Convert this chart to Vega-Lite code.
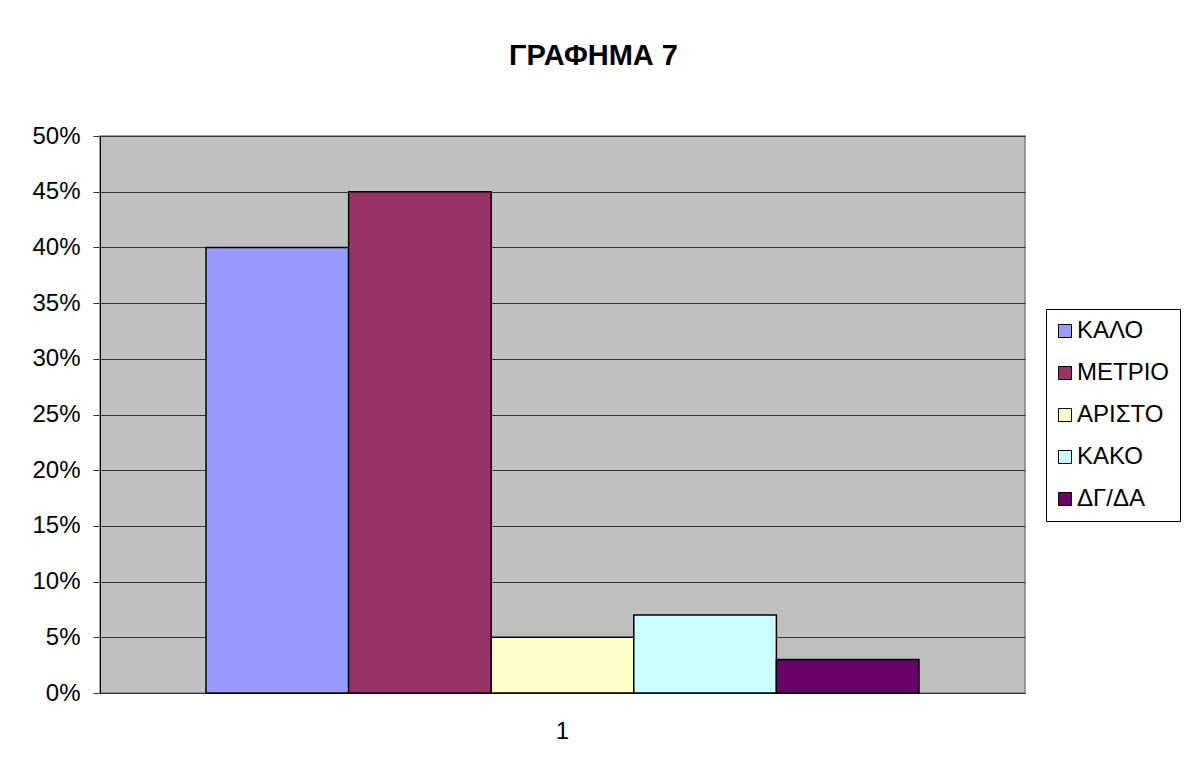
{
  "$schema": "https://vega.github.io/schema/vega-lite/v6.json",
  "width": 925,
  "height": 557,
  "autosize": {"type": "none"},
  "padding": {"left": 100, "top": 136, "right": 159, "bottom": 79},
  "background": "#ffffff",
  "title": {
    "text": "ΓΡΑΦΗΜΑ 7",
    "fontSize": 29,
    "font": "Liberation Sans",
    "fontWeight": "bold",
    "color": "#000000",
    "anchor": "middle",
    "dx": 31,
    "offset": 53
  },
  "data": {
    "values": [
      {"cat": "1", "series": "ΚΑΛΟ", "value": 0.40},
      {"cat": "1", "series": "ΜΕΤΡΙΟ", "value": 0.45},
      {"cat": "1", "series": "ΑΡΙΣΤΟ", "value": 0.05},
      {"cat": "1", "series": "ΚΑΚΟ", "value": 0.07},
      {"cat": "1", "series": "ΔΓ/ΔΑ", "value": 0.03}
    ]
  },
  "mark": {"type": "bar", "stroke": "#000000", "strokeWidth": 1.5},
  "encoding": {
    "x": {
      "field": "cat",
      "type": "nominal",
      "scale": {"paddingInner": 0, "paddingOuter": 0.1487},
      "axis": {
        "title": null,
        "labelAngle": 0,
        "ticks": false,
        "labelFontSize": 24,
        "labelColor": "#000000",
        "labelPadding": 26,
        "domainColor": "#333333",
        "domainWidth": 1
      }
    },
    "xOffset": {
      "field": "series",
      "type": "nominal",
      "sort": ["ΚΑΛΟ", "ΜΕΤΡΙΟ", "ΑΡΙΣΤΟ", "ΚΑΚΟ", "ΔΓ/ΔΑ"],
      "scale": {"paddingInner": 0, "paddingOuter": 0}
    },
    "y": {
      "field": "value",
      "type": "quantitative",
      "scale": {"domain": [0, 0.5], "nice": false},
      "axis": {
        "title": null,
        "format": ".0%",
        "values": [0, 0.05, 0.1, 0.15, 0.2, 0.25, 0.3, 0.35, 0.4, 0.45, 0.5],
        "labelFontSize": 24,
        "labelColor": "#000000",
        "labelPadding": 13,
        "tickSize": 7,
        "tickColor": "#333333",
        "domainColor": "#000000",
        "gridColor": "#333333",
        "gridOpacity": 1,
        "gridWidth": 1
      }
    },
    "color": {
      "field": "series",
      "type": "nominal",
      "scale": {
        "domain": ["ΚΑΛΟ", "ΜΕΤΡΙΟ", "ΑΡΙΣΤΟ", "ΚΑΚΟ", "ΔΓ/ΔΑ"],
        "range": ["#9999FF", "#993366", "#FFFFCC", "#CCFFFF", "#660066"]
      },
      "legend": {
        "title": null,
        "orient": "none",
        "legendX": 946,
        "legendY": 173,
        "strokeColor": "#000000",
        "fillColor": "#ffffff",
        "padding": 10,
        "symbolType": "square",
        "symbolSize": 169,
        "symbolOffset": -3,
        "symbolStrokeColor": "#000000",
        "symbolStrokeWidth": 1,
        "symbolOpacity": 1,
        "labelFontSize": 24,
        "labelColor": "#000000",
        "labelOffset": 0,
        "rowPadding": 18
      }
    }
  },
  "config": {
    "font": "Liberation Sans",
    "view": {"fill": "#C0C0C0", "stroke": "#808080", "strokeWidth": 1.5},
    "axis": {"labelFont": "Liberation Sans"},
    "legend": {"labelFont": "Liberation Sans"}
  }
}
